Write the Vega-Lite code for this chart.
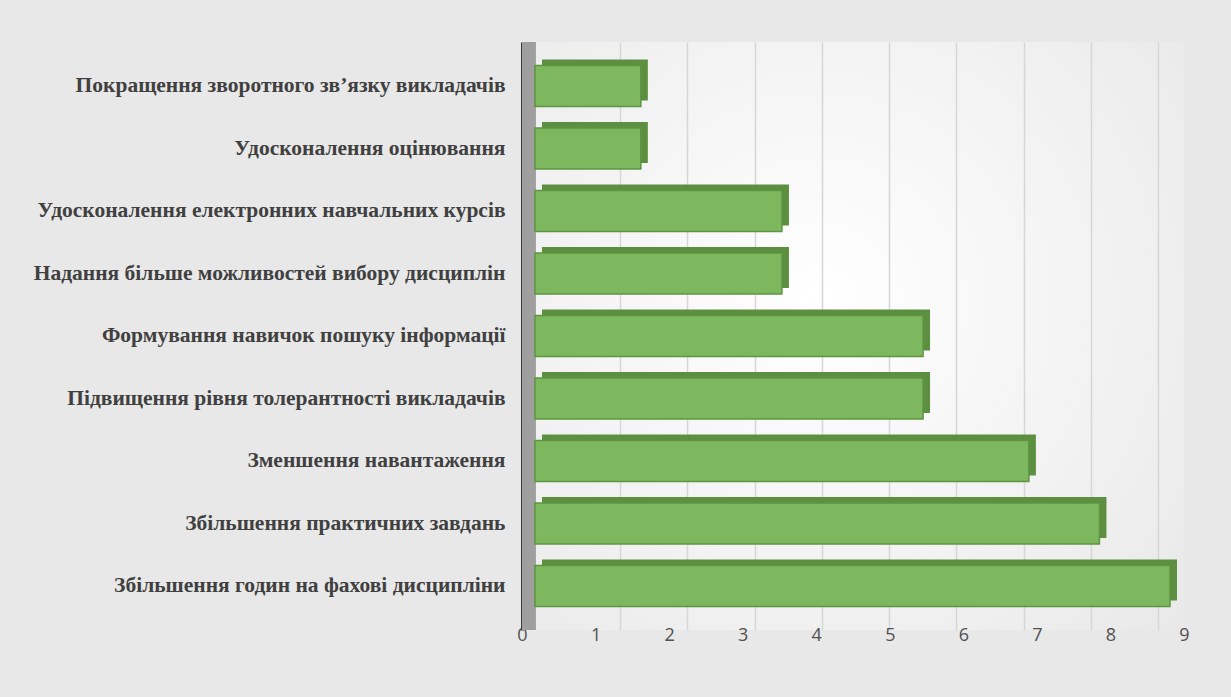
{
  "$schema": "https://vega.github.io/schema/vega-lite/v6.json",
  "autosize": {"type": "none"},
  "padding": {"left": 522, "top": 42, "right": 47, "bottom": 67},
  "width": 662,
  "height": 588,
  "background": "#e8e8e8",
  "config": {"view": {"stroke": null, "fill": {"gradient": "radial", "x1": 0.45, "y1": 0.45, "x2": 0.45, "y2": 0.45, "r1": 0, "r2": 0.75, "stops": [{"offset": 0, "color": "#ffffff"}, {"offset": 1, "color": "#e8e8e8"}]}}},
  "data": {
    "values": [
      {"label": "Покращення зворотного зв’язку викладачів", "value": 1.5},
      {"label": "Удосконалення оцінювання", "value": 1.5},
      {"label": "Удосконалення електронних навчальних курсів", "value": 3.5},
      {"label": "Надання більше можливостей вибору дисциплін", "value": 3.5},
      {"label": "Формування навичок пошуку інформації", "value": 5.5},
      {"label": "Підвищення рівня толерантності викладачів", "value": 5.5},
      {"label": "Зменшення навантаження", "value": 7},
      {"label": "Збільшення практичних завдань", "value": 8},
      {"label": "Збільшення годин на фахові дисципліни", "value": 9}
    ]
  },
  "encoding": {
    "y": {
      "field": "label", "type": "nominal", "sort": null, "title": null,
      "scale": {"paddingInner": 0.344, "paddingOuter": 0.376},
      "axis": {
        "domain": true, "domainColor": "#3a3a3a", "domainWidth": 3,
        "ticks": false, "labelPadding": 17, "labelLimit": 0,
        "labelFont": "Liberation Serif", "labelFontWeight": "bold",
        "labelFontSize": 21.5, "labelColor": "#404040"
      }
    }
  },
  "layer": [
    {
      "mark": {"type": "rect", "fill": "#9f9f9f"},
      "encoding": {
        "y": null,
        "x": {
          "datum": 0, "type": "quantitative",
          "scale": {"domain": [0, 9], "range": [0, 662], "nice": false, "zero": false},
          "axis": {
            "title": null, "grid": false, "ticks": false, "domain": false,
            "values": [0,1,2,3,4,5,6,7,8,9], "labelOverlap": false,
            "labelFont": "Open Sans", "labelFontSize": 18, "labelColor": "#505050",
            "labelPadding": -4, "labelFlush": false
          }
        },
        "x2": {"datum": 0.18}
      }
    },
    {
      "mark": {"type": "rule", "opacity": 0},
      "encoding": {
        "y": null,
        "x": {
          "datum": 0, "type": "quantitative",
          "scale": {"domain": [0, 9], "range": [31, 636], "nice": false, "zero": false},
          "axis": {
            "title": null, "grid": true, "gridColor": "#d6d6d6", "gridWidth": 1.5,
            "ticks": false, "domain": false, "labels": false,
            "values": [1,2,3,4,5,6,7,8,9]
          }
        }
      }
    },
    {
      "mark": {"type": "bar", "fill": "#5c8f40", "xOffset": 7, "yOffset": -6},
      "encoding": {
        "x": {"field": "value", "type": "quantitative", "axis": null,
              "scale": {"domain": [0, 9], "range": [13, 648], "nice": false}}
      }
    },
    {
      "mark": {"type": "bar", "fill": "#7eb85e", "stroke": "#5e9442", "strokeWidth": 1.5},
      "encoding": {
        "x": {"field": "value", "type": "quantitative", "axis": null,
              "scale": {"domain": [0, 9], "range": [13, 648], "nice": false}}
      }
    }
  ],
  "resolve": {"scale": {"x": "independent"}, "axis": {"x": "independent"}}
}
